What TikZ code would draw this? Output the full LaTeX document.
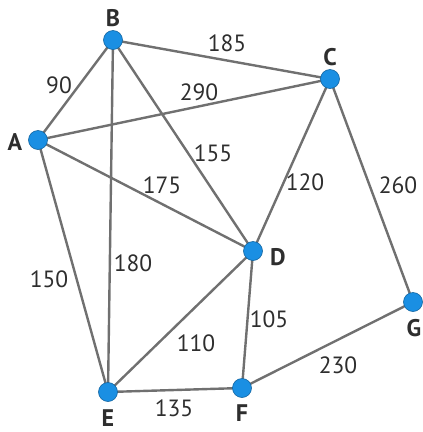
\documentclass[tikz,border=0pt]{standalone}
\usepackage{fontspec}
\setmainfont{PT Sans}
\definecolor{nodeblue}{HTML}{1A8FE3}
\definecolor{edgegray}{HTML}{707070}
\definecolor{txt}{HTML}{2E2E2E}
\begin{document}
\begin{tikzpicture}[x=1pt,y=-1pt,
  vertex/.style={circle,fill=nodeblue,draw=nodeblue!70!black,line width=0.6pt,minimum size=19pt,inner sep=0pt},
  edge/.style={draw=edgegray,line width=2.4pt},
  wlabel/.style={text=txt,font=\fontsize{23.5}{23.5}\selectfont,inner sep=0pt},
  vlabel/.style={text=txt,font=\fontsize{24}{24}\selectfont\bfseries,inner sep=0pt}]
\useasboundingbox (0,0) rectangle (423,432);
\coordinate (pA) at (38,140);
\coordinate (pB) at (113,40);
\coordinate (pC) at (330,79);
\coordinate (pD) at (253,251);
\coordinate (pE) at (108,392);
\coordinate (pF) at (242,388);
\coordinate (pG) at (413,302);
% edges
\draw[edge] (pA) -- (pB);
\draw[edge] (pA) -- (pC);
\draw[edge] (pA) -- (pD);
\draw[edge] (pA) -- (pE);
\draw[edge] (pB) -- (pC);
\draw[edge] (pB) -- (pD);
\draw[edge] (pB) -- (pE);
\draw[edge] (pC) -- (pD);
\draw[edge] (pC) -- (pG);
\draw[edge] (pD) -- (pE);
\draw[edge] (pD) -- (pF);
\draw[edge] (pE) -- (pF);
\draw[edge] (pF) -- (pG);
% vertices
\node[vertex] (A) at (pA) {};
\node[vertex] (B) at (pB) {};
\node[vertex] (C) at (pC) {};
\node[vertex] (D) at (pD) {};
\node[vertex] (E) at (pE) {};
\node[vertex] (F) at (pF) {};
\node[vertex] (G) at (pG) {};
% vertex labels
\node[vlabel] (lA) at (15,142) {A};
\node[vlabel] (lB) at (113,18) {B};
\node[vlabel] (lC) at (330,57) {C};
\node[vlabel] (lD) at (278,257) {D};
\node[vlabel] (lE) at (108,418) {E};
\node[vlabel] (lF) at (242,413) {F};
\node[vlabel] (lG) at (414,328) {G};
% weights
\node[wlabel] (w90) at (59,85) {90};
\node[wlabel] (w185) at (227,43) {185};
\node[wlabel] (w290) at (199,92) {290};
\node[wlabel] (w155) at (213,153) {155};
\node[wlabel] (w175) at (162,185) {175};
\node[wlabel] (w120) at (305,182) {120};
\node[wlabel] (w260) at (398,185) {260};
\node[wlabel] (w150) at (49,279) {150};
\node[wlabel] (w180) at (133,263) {180};
\node[wlabel] (w110) at (196,343) {110};
\node[wlabel] (w105) at (269,319) {105};
\node[wlabel] (w230) at (338,365) {230};
\node[wlabel] (w135) at (174,408) {135};
\end{tikzpicture}
\end{document}
